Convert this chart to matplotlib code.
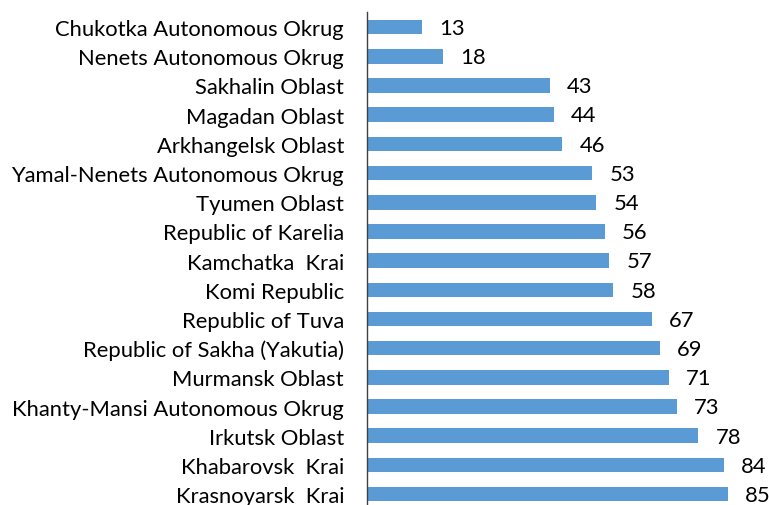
import matplotlib
matplotlib.use('Agg')
import matplotlib.pyplot as plt

regions = ['Chukotka Autonomous Okrug', 'Nenets Autonomous Okrug', 'Sakhalin Oblast',
           'Magadan Oblast', 'Arkhangelsk Oblast', 'Yamal-Nenets Autonomous Okrug',
           'Tyumen Oblast', 'Republic of Karelia', 'Kamchatka  Krai', 'Komi Republic',
           'Republic of Tuva', 'Republic of Sakha (Yakutia)', 'Murmansk Oblast',
           'Khanty-Mansi Autonomous Okrug', 'Irkutsk Oblast', 'Khabarovsk  Krai',
           'Krasnoyarsk  Krai']
values = [13, 18, 43, 44, 46, 53, 54, 56, 57, 58, 67, 69, 71, 73, 78, 84, 85]

plt.rcParams['font.family'] = ['Lato', 'DejaVu Sans']

fig = plt.figure(figsize=(7.69, 5.06), dpi=100)
ax = fig.add_axes([367 / 769, -0.0075, 1 - 367 / 769, 0.981])

pos = list(range(len(values)))
ax.barh(pos, values, height=0.5, color='#5b9bd5')
ax.set_ylim(len(values) - 0.5, -0.5)
ax.set_xlim(0, 94.6)

for p, v in zip(pos, values):
    ax.text(v + 4, p + 0.03, str(v), va='center', ha='left', fontsize=15.8, color='black')

ax.set_yticks(pos)
ax.set_yticklabels(regions, fontsize=15.8)
ax.tick_params(axis='y', length=0, pad=16.5)
ax.set_xticks([])

for side in ['top', 'right', 'bottom']:
    ax.spines[side].set_visible(False)
ax.spines['left'].set_color('#404040')
ax.spines['left'].set_linewidth(1.0)

fig.savefig('out.png', dpi=100)
